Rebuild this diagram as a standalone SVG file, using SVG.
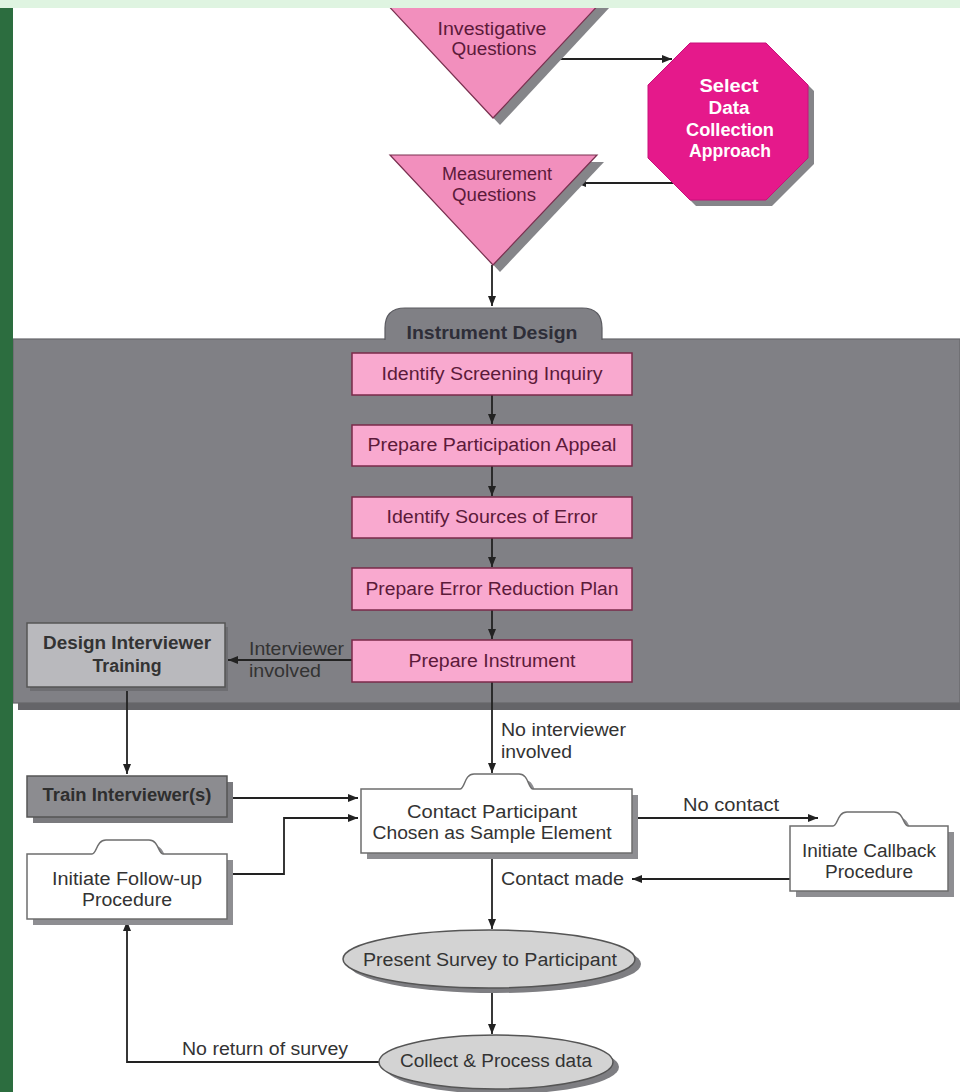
<svg xmlns="http://www.w3.org/2000/svg" width="960" height="1092" viewBox="0 0 960 1092">
  <defs>
    <marker id="arrow" markerUnits="userSpaceOnUse" markerWidth="10" markerHeight="8" refX="10" refY="4" orient="auto">
      <path d="M0,0 L10,4 L0,8 Z" fill="#222"/>
    </marker>
    <style>
      text { font-family: "Liberation Sans", Arial, Helvetica, sans-serif; font-size: 18px; text-anchor: middle; }
      .pinktxt { fill: #5c1a3a; }
      .graytxt { fill: #333333; }
      .bold { font-weight: bold; }
      .left { text-anchor: start; }
      .wtxt { fill: #ffffff; font-weight: bold; }
      .tri { fill: #f28fbd; stroke: #7a3050; stroke-width: 1.2; }
      .shadow { fill: #858589; }
      .pinkbox { fill: #f9a9cf; stroke: #7a2a4a; stroke-width: 1.5; }
      .whitebox { fill: #ffffff; stroke: #6e6e6e; stroke-width: 1.5; }
      .oval { fill: #d3d3d3; stroke: #555; stroke-width: 1.5; }
      .conn { fill: none; stroke: #222; stroke-width: 1.8; }
    </style>
  </defs>

  <!-- page background -->
  <rect x="0" y="0" width="960" height="1092" fill="#ffffff"/>

  <!-- Instrument Design panel -->
  <g id="instrument-design">
    <rect x="18" y="346" width="942" height="364" fill="#646468"/>
    <rect x="13" y="339" width="947" height="364" fill="#808085" stroke="#66666a" stroke-width="1.2"/>
    <path d="M385,340 L385,328 Q385,308 405,308 L582,308 Q602,308 602,328 L602,340" fill="#808085" stroke="#5a5a60" stroke-width="1.2"/>
    <text x="492" y="339" class="bold" fill="#2e2e38" textLength="171" lengthAdjust="spacingAndGlyphs">Instrument Design</text>
  </g>

  <!-- connectors -->
  <g id="connectors">
    <line class="conn" x1="553" y1="59" x2="672" y2="59" marker-end="url(#arrow)"/>
    <line class="conn" x1="673" y1="183" x2="576" y2="183" marker-end="url(#arrow)"/>
    <line class="conn" x1="492" y1="265" x2="492" y2="306" marker-end="url(#arrow)"/>
    <line class="conn" x1="492" y1="395" x2="492" y2="424" marker-end="url(#arrow)"/>
    <line class="conn" x1="492" y1="466" x2="492" y2="496" marker-end="url(#arrow)"/>
    <line class="conn" x1="492" y1="538" x2="492" y2="567" marker-end="url(#arrow)"/>
    <line class="conn" x1="492" y1="610" x2="492" y2="639" marker-end="url(#arrow)"/>
    <line class="conn" x1="352" y1="660" x2="228" y2="660" marker-end="url(#arrow)"/>
    <line class="conn" x1="127" y1="687" x2="127" y2="774" marker-end="url(#arrow)"/>
    <line class="conn" x1="492" y1="682" x2="492" y2="773" marker-end="url(#arrow)"/>
    <line class="conn" x1="232" y1="798" x2="358" y2="798" marker-end="url(#arrow)"/>
    <polyline class="conn" points="227,874 284,874 284,818 358,818" marker-end="url(#arrow)"/>
    <line class="conn" x1="632" y1="818" x2="818" y2="818" marker-end="url(#arrow)"/>
    <line class="conn" x1="790" y1="879" x2="632" y2="879" marker-end="url(#arrow)"/>
    <line class="conn" x1="492" y1="853" x2="492" y2="929" marker-end="url(#arrow)"/>
    <line class="conn" x1="492" y1="988" x2="492" y2="1034" marker-end="url(#arrow)"/>
    <polyline class="conn" points="379,1062 127,1062 127,921" marker-end="url(#arrow)"/>

    <text x="249" y="655" class="graytxt left" textLength="95" lengthAdjust="spacingAndGlyphs">Interviewer</text>
    <text x="249" y="677" class="graytxt left" textLength="72" lengthAdjust="spacingAndGlyphs">involved</text>
    <text x="501" y="736" class="graytxt left" textLength="125" lengthAdjust="spacingAndGlyphs">No interviewer</text>
    <text x="501" y="758" class="graytxt left" textLength="71" lengthAdjust="spacingAndGlyphs">involved</text>
    <text x="731" y="811" class="graytxt" textLength="96" lengthAdjust="spacingAndGlyphs">No contact</text>
    <text x="501" y="885" class="graytxt left" textLength="123" lengthAdjust="spacingAndGlyphs">Contact made</text>
    <text x="182" y="1055" class="graytxt left" textLength="166" lengthAdjust="spacingAndGlyphs">No return of survey</text>
  </g>

  <!-- Investigative Questions -->
  <g id="investigative-questions">
    <polygon class="shadow" points="390,7 610,7 500,125"/>
    <polygon class="tri" points="383,0 603,0 493,118"/>
    <text x="492" y="35" class="pinktxt" textLength="109" lengthAdjust="spacingAndGlyphs">Investigative</text>
    <text x="494" y="55" class="pinktxt" textLength="85" lengthAdjust="spacingAndGlyphs">Questions</text>
  </g>

  <!-- Measurement Questions -->
  <g id="measurement-questions">
    <polygon class="shadow" points="397,162 604,162 500,272"/>
    <polygon class="tri" points="390,155 597,155 493,265"/>
    <text x="497" y="180" class="pinktxt" textLength="110" lengthAdjust="spacingAndGlyphs">Measurement</text>
    <text x="494" y="201" class="pinktxt" textLength="84" lengthAdjust="spacingAndGlyphs">Questions</text>
  </g>

  <!-- Select Data Collection Approach -->
  <g id="select-approach">
    <polygon class="shadow" points="696,49 772,49 814,91 814,164 772,206 696,206 654,164 654,91"/>
    <polygon points="690,43 766,43 808,85 808,158 766,200 690,200 648,158 648,85" fill="#e5198b" stroke="#c8107a" stroke-width="1"/>
    <text x="729" y="92" class="wtxt" textLength="59" lengthAdjust="spacingAndGlyphs">Select</text>
    <text x="729" y="114" class="wtxt" textLength="41" lengthAdjust="spacingAndGlyphs">Data</text>
    <text x="730" y="136" class="wtxt" textLength="88" lengthAdjust="spacingAndGlyphs">Collection</text>
    <text x="730" y="157" class="wtxt" textLength="82" lengthAdjust="spacingAndGlyphs">Approach</text>
  </g>

  <!-- Instrument design steps -->
  <g id="identify-screening">
    <rect class="pinkbox" x="352" y="353" width="280" height="42"/>
    <text x="492" y="380" class="pinktxt" textLength="221" lengthAdjust="spacingAndGlyphs">Identify Screening Inquiry</text>
  </g>
  <g id="participation-appeal">
    <rect class="pinkbox" x="352" y="425" width="280" height="41"/>
    <text x="492" y="451" class="pinktxt" textLength="249" lengthAdjust="spacingAndGlyphs">Prepare Participation Appeal</text>
  </g>
  <g id="sources-of-error">
    <rect class="pinkbox" x="352" y="497" width="280" height="41"/>
    <text x="492" y="523" class="pinktxt" textLength="211" lengthAdjust="spacingAndGlyphs">Identify Sources of Error</text>
  </g>
  <g id="error-reduction">
    <rect class="pinkbox" x="352" y="568" width="280" height="42"/>
    <text x="492" y="595" class="pinktxt" textLength="253" lengthAdjust="spacingAndGlyphs">Prepare Error Reduction Plan</text>
  </g>
  <g id="prepare-instrument">
    <rect class="pinkbox" x="352" y="640" width="280" height="42"/>
    <text x="492" y="667" class="pinktxt" textLength="167" lengthAdjust="spacingAndGlyphs">Prepare Instrument</text>
  </g>

  <!-- Design Interviewer Training -->
  <g id="design-training">
    <rect x="30" y="627" width="198" height="64" fill="#6e6e72"/>
    <rect x="27" y="623" width="198" height="64" fill="#b9b9bd" stroke="#555" stroke-width="1.5"/>
    <text x="127" y="649" class="graytxt bold" textLength="168" lengthAdjust="spacingAndGlyphs">Design Interviewer</text>
    <text x="127" y="672" class="graytxt bold" textLength="69" lengthAdjust="spacingAndGlyphs">Training</text>
  </g>

  <!-- Train Interviewer(s) -->
  <g id="train-interviewers">
    <rect x="33" y="782" width="200" height="41" fill="#7a7a7e"/>
    <rect x="27" y="776" width="200" height="41" fill="#8c8c90" stroke="#555" stroke-width="1.5"/>
    <text x="127" y="801" class="bold" fill="#2e2e2e" textLength="169" lengthAdjust="spacingAndGlyphs">Train Interviewer(s)</text>
  </g>

  <!-- Initiate Follow-up Procedure -->
  <g id="follow-up">
    <path transform="translate(6,6)" d="M27,854 L92,854 C97,854 96,840 106,840 L149,840 C159,840 158,854 163,854 L227,854 L227,919 L27,919 Z" fill="#8e8e92"/>
    <path class="whitebox" d="M27,854 L92,854 C97,854 96,840 106,840 L149,840 C159,840 158,854 163,854 L227,854 L227,919 L27,919 Z"/>
    <text x="127" y="885" class="graytxt" textLength="150" lengthAdjust="spacingAndGlyphs">Initiate Follow-up</text>
    <text x="127" y="906" class="graytxt" textLength="90" lengthAdjust="spacingAndGlyphs">Procedure</text>
  </g>

  <!-- Contact Participant -->
  <g id="contact-participant">
    <path transform="translate(6,6)" d="M361,789 L460,789 C465,789 464,774 474,774 L519,774 C529,774 528,789 533,789 L632,789 L632,853 L361,853 Z" fill="#8e8e92"/>
    <path class="whitebox" d="M361,789 L460,789 C465,789 464,774 474,774 L519,774 C529,774 528,789 533,789 L632,789 L632,853 L361,853 Z"/>
    <text x="492" y="818" class="graytxt" textLength="170" lengthAdjust="spacingAndGlyphs">Contact Participant</text>
    <text x="492" y="839" class="graytxt" textLength="239" lengthAdjust="spacingAndGlyphs">Chosen as Sample Element</text>
  </g>

  <!-- Initiate Callback Procedure -->
  <g id="callback">
    <path transform="translate(6,6)" d="M790,826 L833,826 C838,826 837,812 847,812 L894,812 C904,812 903,826 908,826 L948,826 L948,891 L790,891 Z" fill="#8e8e92"/>
    <path class="whitebox" d="M790,826 L833,826 C838,826 837,812 847,812 L894,812 C904,812 903,826 908,826 L948,826 L948,891 L790,891 Z"/>
    <text x="869" y="857" class="graytxt" textLength="134" lengthAdjust="spacingAndGlyphs">Initiate Callback</text>
    <text x="869" y="878" class="graytxt" textLength="88" lengthAdjust="spacingAndGlyphs">Procedure</text>
  </g>

  <!-- Present Survey to Participant -->
  <g id="present-survey">
    <ellipse cx="495" cy="964" rx="146" ry="29" fill="#7e7e82"/>
    <ellipse class="oval" cx="489" cy="959" rx="146" ry="29"/>
    <text x="490" y="966" class="graytxt" textLength="254" lengthAdjust="spacingAndGlyphs">Present Survey to Participant</text>
  </g>

  <!-- Collect & Process data -->
  <g id="collect-process">
    <ellipse cx="502" cy="1067" rx="117" ry="27" fill="#7e7e82"/>
    <ellipse class="oval" cx="496" cy="1062" rx="117" ry="27"/>
    <text x="496" y="1067" class="graytxt" textLength="192" lengthAdjust="spacingAndGlyphs">Collect &amp; Process data</text>
  </g>

  <!-- page edges -->
  <rect x="0" y="0" width="960" height="8" fill="#dff4e1"/>
  <rect x="0" y="8" width="13" height="1084" fill="#2c6d3f"/>
</svg>
